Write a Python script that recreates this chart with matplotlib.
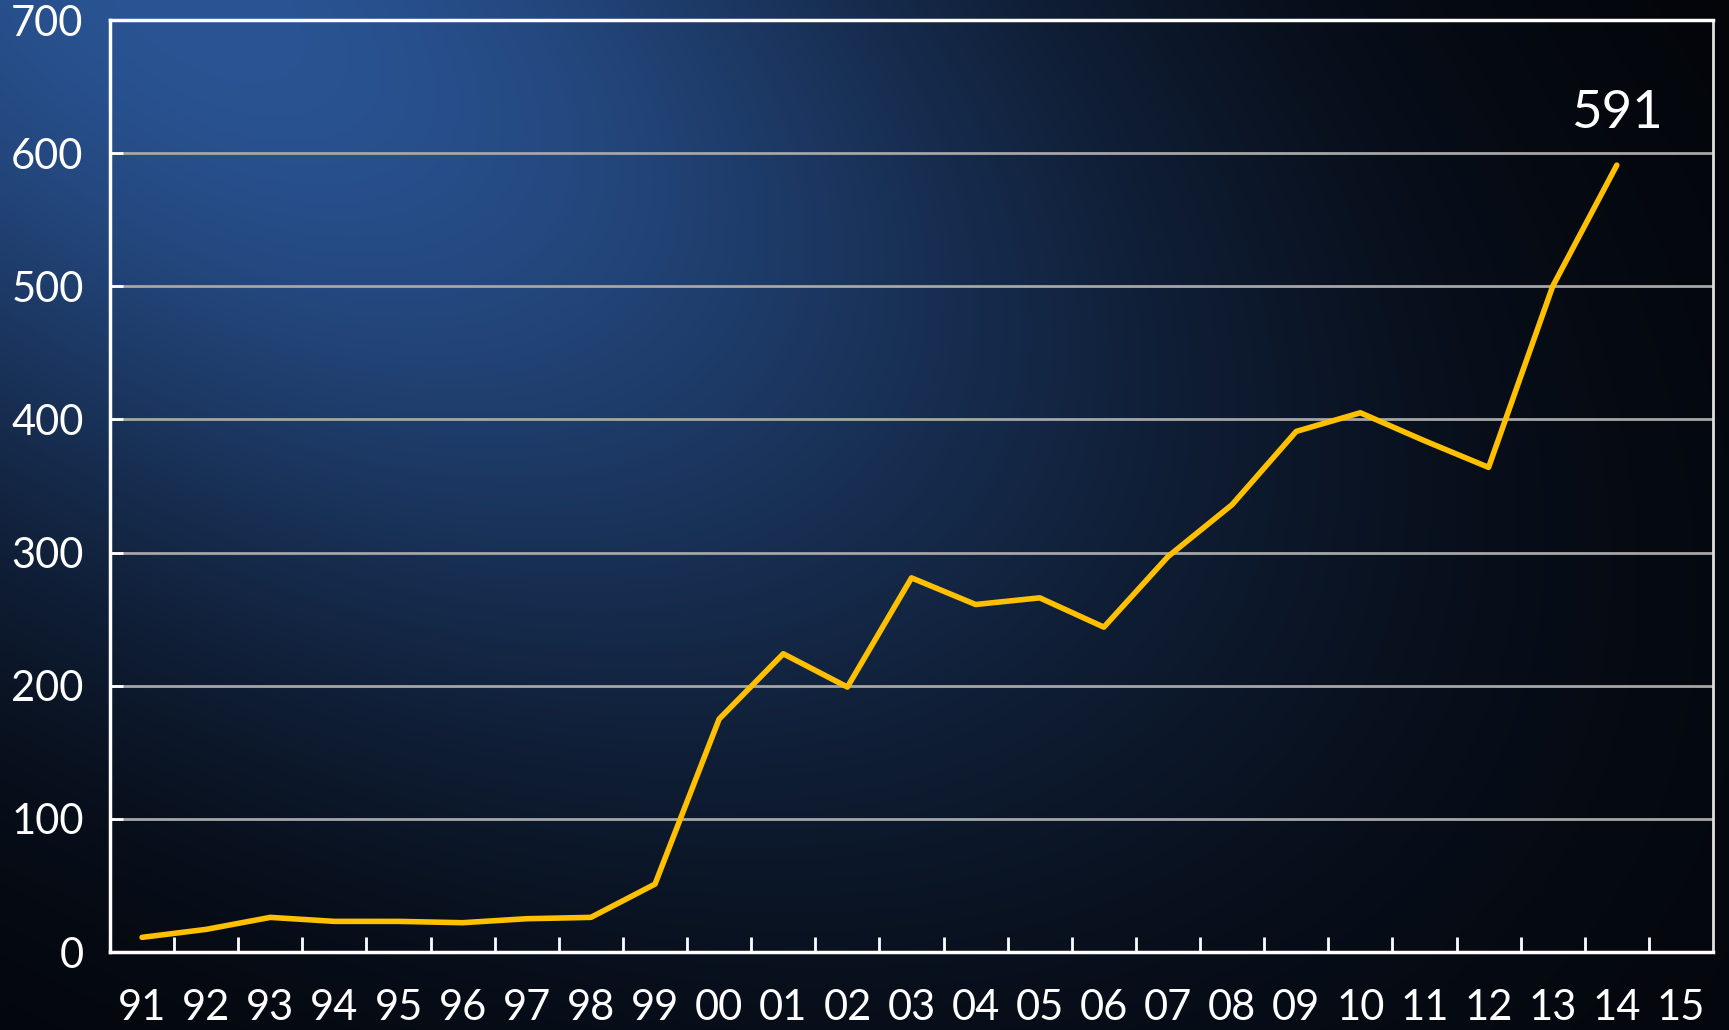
import numpy as np
import matplotlib
matplotlib.use("Agg")
import matplotlib.pyplot as plt
from matplotlib.ticker import FixedLocator, NullFormatter

years = ["91", "92", "93", "94", "95", "96", "97", "98", "99", "00", "01", "02",
         "03", "04", "05", "06", "07", "08", "09", "10", "11", "12", "13", "14", "15"]
values = [11, 17, 26, 23, 23, 22, 25, 26, 51, 175, 224, 199,
          281, 261, 266, 244, 297, 336, 391, 405, 384, 364, 500, 591]
y_ticks = [0, 100, 200, 300, 400, 500, 600, 700]
last_label = "591"

W, H = 1729, 1030
fig = plt.figure(figsize=(W / 100, H / 100), dpi=100)

# background gradient (elliptical, tilted toward lower right)
bg = fig.add_axes([0, 0, 1, 1])
bg.set_axis_off()
yy, xx = np.mgrid[0:H, 0:W].astype(float)
dx = (xx - 200.0) / 1000.0
dy = (yy - 0.0) / 1000.0
Q = 1.564 * dx ** 2 - 2 * 1.014 * dx * dy + 2.532 * dy ** 2
f = np.exp(-Q)
peak = np.array([42, 84, 148]) / 255.0
base = np.array([2, 3, 6]) / 255.0
img = base + (peak - base) * f[..., None]
bg.imshow(img, aspect="auto", extent=[0, 1, 0, 1], origin="upper")
bg.set_xlim(0, 1)
bg.set_ylim(0, 1)

ax = fig.add_axes([110 / W, 1 - 952 / H, (1713 - 110) / W, (952 - 20) / H])
ax.set_facecolor("none")
x = np.arange(len(values))
ax.plot(x, values, color="#FFC000", lw=4, solid_capstyle="round", solid_joinstyle="round", zorder=3)

ax.set_xlim(-0.5, len(years) - 0.5)
ax.set_ylim(0, 700)
ax.set_yticks(y_ticks)
ax.yaxis.grid(True, color="#A6A6A6", lw=2)
ax.set_axisbelow(True)

ax.xaxis.set_major_locator(FixedLocator(np.arange(0.5, len(years) - 1, 1.0)))
ax.xaxis.set_major_formatter(NullFormatter())
ax.xaxis.set_minor_locator(FixedLocator(np.arange(len(years))))
ax.set_xticklabels(years, minor=True)
ax.tick_params(axis="x", which="major", direction="in", length=11, width=2, color="white")
ax.tick_params(axis="x", which="minor", length=0, pad=27, labelsize=30, labelcolor="white")
ax.tick_params(axis="y", direction="in", length=9, width=2, color="white", pad=19,
               labelsize=30, labelcolor="white")
for lab in ax.get_xticklabels(minor=True) + ax.get_yticklabels():
    lab.set_fontfamily("Lato")

for s in ax.spines.values():
    s.set_color("white")
    s.set_linewidth(2.5)
ax.spines["right"].set_color("#E0E0E0")
ax.spines["right"].set_linewidth(2)

ax.annotate(last_label, (x[-1], values[-1]), xytext=(0, 37), textcoords="offset points",
            ha="center", va="center", color="white", fontsize=38, fontfamily="Lato")

fig.savefig("out.png", dpi=100)
